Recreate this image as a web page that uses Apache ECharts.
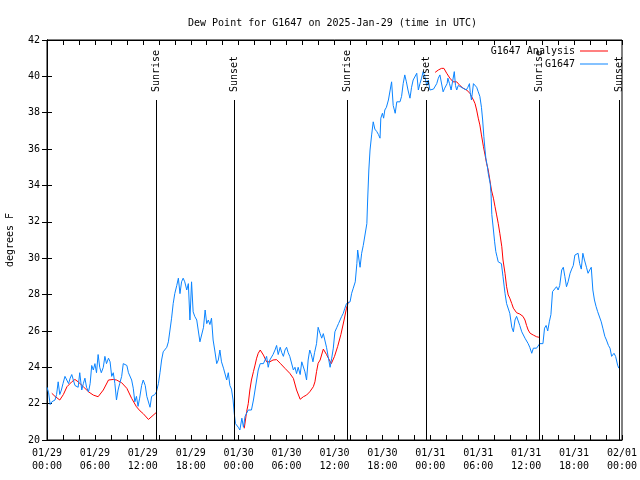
<!DOCTYPE html>
<html><head><meta charset="utf-8">
<script src="https://cdn.jsdelivr.net/npm/echarts@6/dist/echarts.min.js"></script>
<style>html,body{margin:0;padding:0;background:#fff}#c{width:640px;height:480px}</style>
</head><body><div id="c"></div>
<script>
// hours since 2025-01-29 00:00 UTC
var obsHours = [0.0,0.2,0.4,0.6,1.0,1.2,1.4,1.6,1.8,2.0,2.25,2.45,2.7,2.9,3.1,3.3,3.5,3.9,4.1,4.35,4.55,4.75,4.95,5.2,5.4,5.6,5.8,6.0,6.2,6.4,6.6,6.8,7.05,7.25,7.45,7.7,7.9,8.1,8.3,8.5,8.7,8.9,9.1,9.35,9.55,10.0,10.2,10.6,10.8,11.0,11.2,11.4,11.6,11.85,12.05,12.3,12.5,12.9,13.1,13.5,13.7,13.95,14.15,14.35,14.55,15.0,15.2,15.4,15.6,15.8,16.0,16.25,16.45,16.65,16.85,17.05,17.25,17.5,17.7,17.9,18.1,18.3,18.5,18.75,18.95,19.15,19.35,19.6,19.8,20.0,20.2,20.4,20.6,20.8,21.0,21.25,21.45,21.65,21.85,22.1,22.3,22.5,22.7,22.9,23.1,23.3,23.45,23.6,23.95,24.15,24.4,24.6,24.8,25.0,25.2,25.6,25.85,26.05,26.25,26.45,26.7,27.1,27.3,27.5,27.7,27.9,28.1,28.3,28.55,28.75,28.95,29.2,29.4,29.6,29.8,30.0,30.2,30.4,30.6,30.85,31.05,31.25,31.45,31.7,31.9,32.1,32.3,32.5,32.7,32.9,33.1,33.3,33.5,33.75,33.95,34.2,34.4,34.6,34.8,35.0,35.2,35.45,35.65,35.85,36.05,36.3,36.5,36.7,36.9,37.1,37.3,37.5,37.95,38.15,38.35,38.6,38.8,38.9,39.07,39.2,39.4,39.6,39.8,40.05,40.15,40.3,40.45,40.65,40.85,41.05,41.3,41.5,41.7,41.8,42.0,42.15,42.3,42.5,42.75,42.95,43.15,43.35,43.6,43.8,44.2,44.4,44.6,44.8,45.0,45.2,45.45,45.65,45.85,46.05,46.3,46.5,46.7,46.9,47.1,47.3,47.55,47.75,47.95,48.4,48.6,48.8,49.0,49.2,49.4,49.6,49.8,50.0,50.1,50.2,50.4,50.6,50.8,51.0,51.15,51.3,51.5,51.7,52.1,52.3,52.5,52.7,52.9,53.0,53.15,53.4,53.6,53.8,54.0,54.2,54.4,54.55,54.7,54.85,54.95,55.15,55.25,55.5,55.6,55.7,55.9,56.05,56.2,56.35,56.5,56.7,56.9,57.1,57.35,57.55,57.75,57.95,58.2,58.4,58.6,58.8,59.0,59.2,59.45,59.65,59.85,60.05,60.25,60.45,60.7,60.9,61.3,61.5,61.7,62.1,62.3,62.5,62.7,62.9,63.1,63.3,63.5,63.8,64.0,64.2,64.45,64.65,64.85,65.05,65.25,65.5,65.7,65.9,66.1,66.3,66.5,66.7,66.9,67.1,67.3,67.55,67.75,67.95,68.15,68.35,68.55,68.75,68.95,69.15,69.4,69.6,69.85,70.05,70.3,70.5,70.7,70.9,71.0,71.2,71.45,71.6];
var obsDew = [22.9,22.6,21.95,22.1,22.2,22.5,23.2,22.5,22.75,23.1,23.5,23.6,23.1,23.4,23.6,23.3,23.0,22.9,23.7,22.75,23.1,23.4,22.9,22.65,23.1,24.1,23.85,24.2,23.7,24.7,24.0,23.7,24.0,24.6,24.2,24.5,24.3,23.5,23.7,23.1,22.2,22.75,23.1,23.5,24.2,24.1,23.7,23.3,22.85,22.1,22.4,21.85,22.3,23.0,23.3,23.0,22.4,21.8,22.4,22.5,22.65,23.1,23.7,24.4,24.85,25.1,25.4,26.05,26.7,27.5,28.05,28.5,28.9,28.05,28.7,28.9,28.7,28.25,28.6,26.6,28.7,27.05,26.8,26.6,26.5,25.4,25.3,26.2,27.15,26.4,26.6,26.35,26.7,25.5,24.95,24.2,24.4,24.95,24.3,23.95,23.85,23.3,23.7,23.0,22.8,22.2,21.45,20.9,20.7,20.55,21.2,20.7,21.3,21.2,21.65,21.65,22.2,22.75,23.3,23.85,24.2,24.2,24.4,24.6,24.0,24.4,24.3,24.7,24.95,25.2,24.7,25.1,24.8,24.6,24.95,25.1,24.8,24.6,24.5,23.85,24.0,23.65,24.0,23.6,24.3,24.3,23.75,23.3,24.4,24.95,24.7,24.3,24.8,25.3,26.2,25.85,25.6,25.85,25.95,25.1,24.6,24.0,24.5,25.05,25.95,26.2,26.4,26.6,26.8,26.97,27.25,27.5,27.6,28.07,28.35,28.7,29.7,30.45,29.9,29.5,30.27,30.7,30.8,31.9,33.2,34.85,35.95,36.78,37.5,37.1,36.96,36.8,36.6,37.7,37.97,37.7,38.15,38.3,38.7,38.7,39.7,38.4,37.97,38.6,38.6,38.9,39.6,40.08,39.7,39.25,38.8,39.4,39.8,39.9,40.17,39.25,39.6,39.9,40.26,40.0,39.5,39.8,39.25,39.3,39.35,39.6,39.9,40.08,40.17,39.15,39.35,39.4,39.6,39.9,39.6,39.25,39.35,40.26,39.5,39.25,39.5,39.4,39.35,39.35,39.25,39.4,39.6,39.1,38.7,39.6,39.6,39.4,39.15,38.9,38.3,37.6,36.7,35.95,35.5,35.03,34.67,34.1,33.57,32.4,31.55,30.9,30.36,30.08,29.8,29.8,29.7,28.98,28.07,27.5,27.4,26.97,26.2,25.95,26.6,26.8,26.9,26.3,25.95,26.05,25.6,25.55,25.3,25.1,24.77,25.05,25.05,25.1,25.3,25.3,26.15,26.3,26.0,26.5,26.9,28.16,28.25,28.43,28.25,28.5,29.35,29.5,28.98,28.43,28.7,29.17,29.4,29.6,30.17,30.27,30.27,29.7,29.4,30.27,29.9,29.5,29.17,29.35,29.5,28.25,27.7,27.35,27.06,26.97,26.5,26.15,25.7,25.5,25.2,25.05,24.6,24.7,24.77,24.6,24.12,23.95];
// analysis (null = gap)
var anaHours = [0.6,1.0,1.6,2.05,2.5,3.1,3.5,3.9,4.55,5.2,5.8,6.4,6.6,7.05,7.7,8.3,8.7,9.35,10.0,10.6,11.2,11.65,12.05,12.7,13.65,
  18.0,
  24.7,25.0,25.2,25.4,25.6,25.85,26.05,26.25,26.45,26.7,27.1,27.5,27.9,28.3,28.75,29.2,29.8,30.4,30.85,31.25,31.7,32.1,32.5,32.9,33.35,33.55,33.75,33.95,34.2,34.6,35.0,35.6,36.0,36.4,36.8,37.2,37.5,37.75,
  43.0,
  48.6,49.0,49.4,49.7,50.05,50.45,50.85,51.3,51.7,52.1,52.55,52.95,53.15,53.4,53.6,53.8,54.0,54.2,54.4,54.65,54.85,55.05,55.25,55.45,55.65,55.9,56.1,56.3,56.5,56.7,56.95,57.1,57.35,57.55,57.75,57.95,58.2,58.4,58.8,59.2,59.6,59.85,60.05,60.25,60.5,60.9,61.3,61.6];
var anaDew = [22.57,22.4,22.2,22.5,22.93,23.2,23.33,23.2,22.93,22.65,22.47,22.38,22.38,22.75,23.3,23.33,23.3,23.15,22.84,22.29,21.83,21.6,21.45,21.13,21.5,
  null,
  20.64,21.56,22.0,22.75,23.3,23.76,24.12,24.5,24.77,24.95,24.67,24.3,24.3,24.4,24.42,24.22,23.94,23.67,23.39,22.75,22.24,22.38,22.47,22.65,22.93,23.2,23.76,24.22,24.4,25.0,24.7,24.2,24.6,25.15,25.8,26.6,27.25,27.6,
  null,
  40.22,40.35,40.44,40.44,40.17,39.9,39.7,39.7,39.5,39.35,39.25,39.07,38.9,38.7,38.5,38.15,37.7,37.33,36.78,36.13,35.68,35.2,34.85,34.3,33.75,33.3,32.83,32.38,31.92,31.37,30.63,29.9,29.17,28.43,27.98,27.8,27.5,27.25,27.0,26.93,26.8,26.6,26.3,26.05,25.87,25.77,25.68,25.65];
var eventHours = [13.65, 23.45, 37.6, 47.5, 61.65, 71.63];
var eventNames = ['Sunrise','Sunset','Sunrise','Sunset','Sunrise','Sunset'];
var xTickLabels = ['01/29\n00:00','01/29\n06:00','01/29\n12:00','01/29\n18:00','01/30\n00:00','01/30\n06:00','01/30\n12:00','01/30\n18:00','01/31\n00:00','01/31\n06:00','01/31\n12:00','01/31\n18:00','02/01\n00:00'];
var seriesNames = ['G1647 Analysis','G1647'];
var titleText = 'Dew Point for G1647 on 2025-Jan-29 (time in UTC)';
var yName = 'degrees F';

var FONT = 'DejaVu Sans Mono';
var chart = echarts.init(document.getElementById('c'), null, {renderer:'canvas'});
function pairs(h, v){ return h.map(function(x,i){ return [x, v[i]]; }); }
var tickStyle = {show:true, inside:true, length:5, lineStyle:{color:'#000', width:1}};
var minorStyle = {show:true, splitNumber:3, length:5, lineStyle:{color:'#000', width:1}};
var xBase = {type:'value', min:0, max:72, interval:6, splitLine:{show:false},
  axisLine:{show:true, lineStyle:{color:'#000', width:1}}, axisTick:tickStyle, minorTick:minorStyle};
var yBase = {type:'value', min:20, max:42, interval:2, splitLine:{show:false},
  axisLine:{show:true, lineStyle:{color:'#000', width:1}}, axisTick:tickStyle};

chart.setOption({
  animation:false,
  backgroundColor:'#fff',
  title:{text:titleText, left:183, top:13, textStyle:{fontFamily:FONT, fontSize:10, fontWeight:'normal', color:'#000'}},
  legend:[
    {data:[seriesNames[0]], right:27, top:41, align:'right', icon:'rect', itemWidth:28, itemHeight:1,
     textStyle:{fontFamily:FONT, fontSize:10, color:'#000'}, selectedMode:false},
    {data:[seriesNames[1]], right:27, top:54, align:'right', icon:'rect', itemWidth:28, itemHeight:1,
     textStyle:{fontFamily:FONT, fontSize:10, color:'#000'}, selectedMode:false}
  ],
  grid:{left:47, right:18, top:40, bottom:40, show:true, borderColor:'#000', borderWidth:1,
        containLabel:false, outerBoundsMode:'none'},
  xAxis:[
    Object.assign({}, xBase, {position:'bottom',
      axisLabel:{show:true, margin:7, fontFamily:FONT, fontSize:10, color:'#000', lineHeight:13,
        showMinLabel:true, showMaxLabel:true,
        formatter:function(v){ return xTickLabels[Math.round(v/6)] || ''; }}}),
    Object.assign({}, xBase, {position:'top', axisLabel:{show:false}})
  ],
  yAxis:[
    Object.assign({}, yBase, {position:'left', name:yName, nameLocation:'middle', nameGap:32,
      nameTextStyle:{fontFamily:FONT, fontSize:10, color:'#000'},
      axisLabel:{show:true, margin:7, fontFamily:FONT, fontSize:10, color:'#000'}}),
    Object.assign({}, yBase, {position:'right', axisLabel:{show:false}})
  ],
  series:[
    {name:seriesNames[0], type:'line', data:pairs(anaHours, anaDew), showSymbol:false, connectNulls:false,
     color:'#ff0000', lineStyle:{color:'#ff0000', width:1}, z:2},
    {name:seriesNames[1], type:'line', data:pairs(obsHours, obsDew), showSymbol:false,
     color:'#0a84ff', lineStyle:{color:'#0a84ff', width:1}, z:3},
    {type:'custom', data:eventHours.map(function(h,i){ return [h, 20, i]; }), encode:{x:0, y:1}, z:4, clip:false,
     renderItem:function(params, api){
       var cs = params.coordSys;
       var px = Math.round(api.coord([api.value(0), 20])[0]) + 0.5;
       var top = cs.y + 60, bottom = cs.y + cs.height;
       return {type:'group', children:[
         {type:'line', shape:{x1:px, y1:top, x2:px, y2:bottom}, style:{stroke:'#000', lineWidth:1}},
         {type:'text', x:px, y:top - 8, rotation:Math.PI/2,
          style:{text:eventNames[api.value(2)], fill:'#000', font:'10px "' + FONT + '"', align:'left', verticalAlign:'middle'}}
       ]};
     }}
  ]
});
</script></body></html>
